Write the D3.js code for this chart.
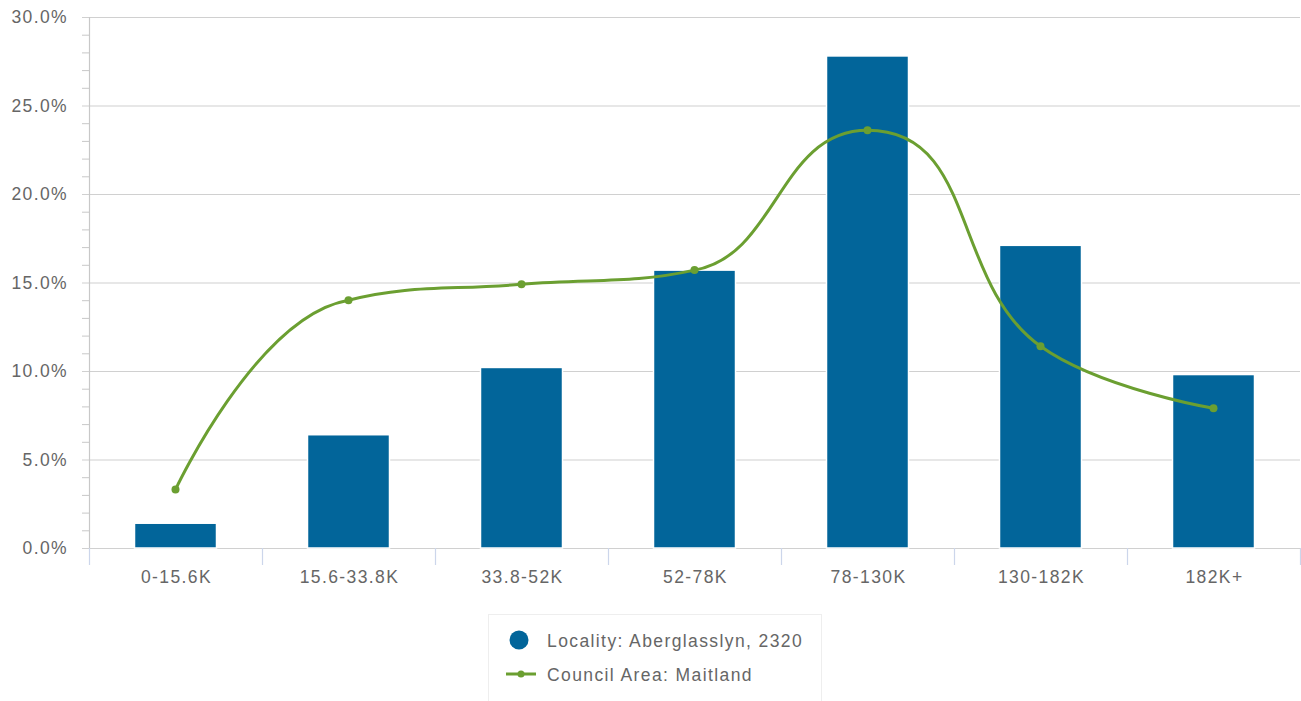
<!DOCTYPE html>
<html>
<head>
<meta charset="utf-8">
<script src="https://cdn.jsdelivr.net/npm/d3@7"></script>
<style>
  html, body { margin: 0; padding: 0; background: #fff; }
  svg { display: block; font-family: "Liberation Sans", Arial, sans-serif; }
</style>
</head>
<body>
<svg id="chart" width="1301" height="701"></svg>
<script>
const categories = ["0-15.6K", "15.6-33.8K", "33.8-52K", "52-78K", "78-130K", "130-182K", "182K+"];
const localityValues = [1.4, 6.4, 10.2, 15.7, 27.8, 17.1, 9.8];
const councilValues = [3.3, 14.0, 14.9, 15.7, 23.6, 11.4, 7.9];
const yTicks = [0, 5, 10, 15, 20, 25, 30];
const seriesNames = ["Locality: Aberglasslyn, 2320", "Council Area: Maitland"];

const barColor = "#02659a";
const lineColor = "#6b9f31";
const textColor = "#666666";
const fontSize = "17.5px";
const spacing = "1.4px";

const svg = d3.select("#chart");
const margin = { left: 89, right: 1300, top: 17, bottom: 548 };

const x = d3.scaleBand().domain(categories).range([margin.left, margin.right]).paddingInner(0).paddingOuter(0);
const y = d3.scaleLinear().domain([0, 30]).range([margin.bottom, margin.top]);

// grid lines
const grid = svg.append("g");
grid.selectAll("line").data(yTicks).enter().append("line")
  .attr("x1", margin.left - 7).attr("x2", margin.right)
  .attr("y1", d => y(d) + 0.5).attr("y2", d => y(d) + 0.5)
  .attr("stroke", "#d0d0d0").attr("stroke-width", 1.2);

// minor ticks on y axis
const minor = d3.range(0, 30, 1).filter(v => v % 5 !== 0);
svg.append("g").selectAll("line").data(minor).enter().append("line")
  .attr("x1", margin.left - 7).attr("x2", margin.left)
  .attr("y1", d => y(d) + 0.5).attr("y2", d => y(d) + 0.5)
  .attr("stroke", "#c8c8c8").attr("stroke-width", 1);

// y axis line
svg.append("line")
  .attr("x1", margin.left + 0.5).attr("x2", margin.left + 0.5)
  .attr("y1", margin.top).attr("y2", margin.bottom)
  .attr("stroke", "#c8c8c8").attr("stroke-width", 1.2);

// y labels
svg.append("g").selectAll("text").data(yTicks).enter().append("text")
  .attr("x", 68).attr("y", d => y(d) + 6)
  .attr("text-anchor", "end")
  .attr("fill", textColor)
  .style("font-size", fontSize).style("letter-spacing", spacing)
  .text(d => d.toFixed(1) + "%");

// x axis ticks (category boundaries)
const boundaries = categories.map(c => x(c)).concat([margin.right]);
svg.append("g").selectAll("line").data(boundaries).enter().append("line")
  .attr("x1", d => d + 0.5).attr("x2", d => d + 0.5)
  .attr("y1", margin.bottom).attr("y2", margin.bottom + 17)
  .attr("stroke", "#ccd6eb").attr("stroke-width", 1.2);

// x labels
svg.append("g").selectAll("text").data(categories).enter().append("text")
  .attr("x", d => x(d) + x.bandwidth() / 2 + 1)
  .attr("y", 583)
  .attr("text-anchor", "middle")
  .attr("fill", textColor)
  .style("font-size", fontSize).style("letter-spacing", spacing)
  .text(d => d);

// bars
const barW = 82;
svg.append("g").selectAll("rect").data(localityValues).enter().append("rect")
  .attr("x", (d, i) => x(categories[i]) + x.bandwidth() / 2 - barW / 2)
  .attr("y", d => y(d))
  .attr("width", barW)
  .attr("height", d => y(0) - y(d))
  .attr("fill", barColor)
  .attr("stroke", "#ffffff").attr("stroke-width", 1.5);

// Highcharts-like spline
const pts = councilValues.map((v, i) => ({ x: x(categories[i]) + x.bandwidth() / 2, y: y(v) }));
function ctrl(i) {
  const s = 1.5, den = s + 1;
  const p = pts[i], l = pts[i - 1], n = pts[i + 1];
  if (!l || !n) return { lx: p.x, ly: p.y, rx: p.x, ry: p.y };
  let lx = (s * p.x + l.x) / den, ly = (s * p.y + l.y) / den;
  let rx = (s * p.x + n.x) / den, ry = (s * p.y + n.y) / den;
  const dl = Math.hypot(lx - p.x, ly - p.y), dr = Math.hypot(rx - p.x, ry - p.y);
  const la = Math.atan2(ly - p.y, lx - p.x), ra = Math.atan2(ry - p.y, rx - p.x);
  let ja = Math.PI / 2 + (la + ra) / 2;
  if (Math.abs(la - ja) > Math.PI / 2) ja -= Math.PI;
  lx = p.x + Math.cos(ja) * dl; ly = p.y + Math.sin(ja) * dl;
  rx = p.x + Math.cos(Math.PI + ja) * dr; ry = p.y + Math.sin(Math.PI + ja) * dr;
  if (ry > n.y && ry > p.y) { ry = Math.max(n.y, p.y); ly = 2 * p.y - ry; }
  else if (ry < n.y && ry < p.y) { ry = Math.min(n.y, p.y); ly = 2 * p.y - ry; }
  if (ly > l.y && ly > p.y) { ly = Math.max(l.y, p.y); ry = 2 * p.y - ly; }
  else if (ly < l.y && ly < p.y) { ly = Math.min(l.y, p.y); ry = 2 * p.y - ly; }
  return { lx, ly, rx, ry };
}
const cs = pts.map((p, i) => ctrl(i));
const path = d3.path();
path.moveTo(pts[0].x, pts[0].y);
for (let i = 1; i < pts.length; i++) {
  path.bezierCurveTo(cs[i - 1].rx, cs[i - 1].ry, cs[i].lx, cs[i].ly, pts[i].x, pts[i].y);
}
svg.append("path").attr("d", path.toString())
  .attr("fill", "none").attr("stroke", lineColor).attr("stroke-width", 3)
  .attr("stroke-linejoin", "round").attr("stroke-linecap", "round");

svg.append("g").selectAll("circle").data(pts).enter().append("circle")
  .attr("cx", d => d.x).attr("cy", d => d.y).attr("r", 4)
  .attr("fill", lineColor);

// legend
const lg = svg.append("g");
lg.append("rect").attr("x", 488.5).attr("y", 614.5).attr("width", 333).attr("height", 90)
  .attr("fill", "#fff").attr("stroke", "#eeeeee").attr("stroke-width", 1);
lg.append("circle").attr("cx", 519).attr("cy", 640).attr("r", 9.5).attr("fill", barColor);
lg.append("text").attr("x", 547).attr("y", 647).attr("fill", textColor)
  .style("font-size", fontSize).style("letter-spacing", spacing).text(seriesNames[0]);
lg.append("line").attr("x1", 506).attr("x2", 536).attr("y1", 674).attr("y2", 674)
  .attr("stroke", lineColor).attr("stroke-width", 3);
lg.append("circle").attr("cx", 521).attr("cy", 674).attr("r", 3.5).attr("fill", lineColor);
lg.append("text").attr("x", 547).attr("y", 681).attr("fill", textColor)
  .style("font-size", fontSize).style("letter-spacing", spacing).text(seriesNames[1]);
</script>
</body>
</html>
